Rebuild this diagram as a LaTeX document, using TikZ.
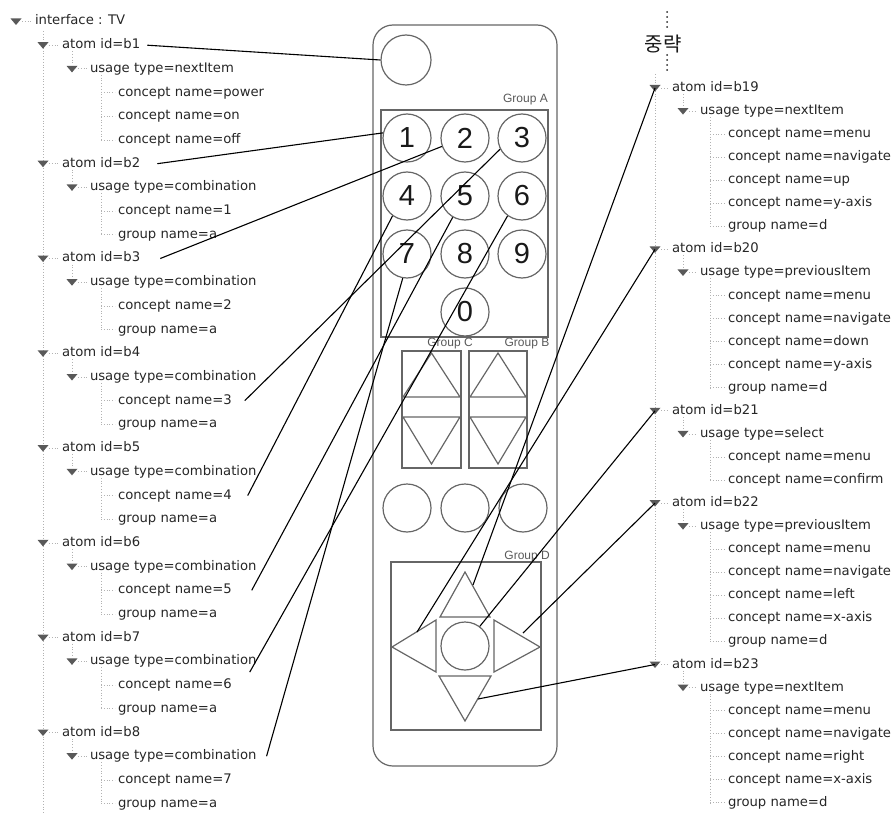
\documentclass[tikz,border=0pt]{standalone}
\usepackage{fontspec}
\setmainfont{DejaVu Sans}
\newfontfamily\digitfont{Liberation Sans}
\newfontfamily\krfont{Noto Sans CJK KR}
\newcommand\tbranch[5]{% name, triangle x, text x, y, text
  \fill[trifill] (#2-5.5,{#4-3}) -- (#2+5.5,{#4-3}) -- (#2,{#4+3.5}) -- cycle;
  \draw[treeline] (#2+6,{#4}) -- (#3-3,{#4});
  \coordinate (t-#1) at (#2,{#4});
  \node[ttext] (#1) at (#3,{#4}) {#5};}
\newcommand\tleaf[5]{% name, line x, text x, y, text
  \draw[treeline] (#2,{#4}) -- (#3-3,{#4});
  \node[ttext] (#1) at (#3,{#4}) {#5};}
\newcommand\rblock[8]{% id, start row, usage, nleaves, leaves...
  \tbranch{#1}{655}{672}{88+23.06*#2}{atom id=#1}
  \tbranch{u#1}{683}{700}{88+23.06*(#2+1)}{usage type=#3}
  \draw[treeline] (683,{88+23.06*#2+6}) -- (683,{88+23.06*(#2+1)-5});
  \tleaf{l#1a}{710}{728}{88+23.06*(#2+2)}{concept name=#5}
  \tleaf{l#1b}{710}{728}{88+23.06*(#2+3)}{concept name=#6}
  \ifnum#4>2
  \tleaf{l#1c}{710}{728}{88+23.06*(#2+4)}{concept name=#7}
  \tleaf{l#1d}{710}{728}{88+23.06*(#2+5)}{concept name=#8}
  \tleaf{l#1e}{710}{728}{88+23.06*(#2+6)}{group name=d}
  \fi
  \draw[treeline] (710,{88+23.06*(#2+1)+6}) -- (710,{88+23.06*(#2+1+#4)});}
\begin{document}
\begin{tikzpicture}[x=1pt,y=-1pt,
  ttext/.style={anchor=west,inner sep=0pt,outer sep=0pt,text height=10pt,text depth=3pt,
    font=\fontsize{13.2}{16}\selectfont,text=black!85},
  trifill/.style={fill=black!65},
  treeline/.style={draw=black!30,dotted,line width=0.8pt},
  rem/.style={draw=black!60,line width=1.2pt},
  padkey/.style={rem,circle,minimum size=48pt,inner sep=0pt,
    font=\digitfont\fontsize{29}{30}\selectfont,text=black!90},
  grp/.style={font=\digitfont\fontsize{12}{14}\selectfont,text=black!65,inner sep=0pt},
  conn/.style={draw=black,line width=1.1pt},
  omitdots/.style={draw=black!85,line width=2pt,line cap=round,dash pattern=on 0pt off 5pt}
]
\useasboundingbox (0,0) rectangle (894,813);

% ---------------- remote control ----------------
\draw[rem,rounded corners=20pt] (373,25) rectangle (557,766);
\node[padkey,minimum size=50pt] (ktop) at (406,60) {};
\node[grp,anchor=east] (gA) at (548,100) {Group A};
\draw[rem] (381,110) rectangle (548,337);
\node[padkey] (k1) at (407,138) {1};
\node[padkey] (k2) at (465,138) {2};
\node[padkey] (k3) at (522,138) {3};
\node[padkey] (k4) at (407,196) {4};
\node[padkey] (k5) at (465,196) {5};
\node[padkey] (k6) at (522,196) {6};
\node[padkey] (k7) at (407,254) {7};
\node[padkey] (k8) at (465,254) {8};
\node[padkey] (k9) at (522,254) {9};
\node[padkey] (k0) at (465,312) {0};

\node[grp] (gC) at (450,344) {Group C};
\node[grp] (gB) at (527,344) {Group B};
\draw[rem] (402,351) rectangle (461,468);
\draw[rem] (431.5,353) -- (403,397) -- (460,397) -- cycle;
\draw[rem] (403,417) -- (460,417) -- (431.5,464) -- cycle;
\draw[rem] (469,351) rectangle (527,468);
\draw[rem] (498,353) -- (470,397) -- (526,397) -- cycle;
\draw[rem] (470,417) -- (526,417) -- (498,464) -- cycle;

\node[padkey] (m1) at (407,508) {};
\node[padkey] (m2) at (465,508) {};
\node[padkey] (m3) at (523,508) {};

\node[grp,anchor=east] (gD) at (550,557) {Group D};
\draw[rem] (391,562) rectangle (541,730);
\draw[rem] (465,572) -- (440,617) -- (490,617) -- cycle;
\draw[rem] (392,647) -- (436,620) -- (436,672) -- cycle;
\node[padkey] (dC) at (465,646) {};
\draw[rem] (494,620) -- (540,647) -- (494,672) -- cycle;
\draw[rem] (439,676) -- (491,676) -- (465,721) -- cycle;
\coordinate (dUp) at (473,585);
\coordinate (dLeft) at (417,632);
\coordinate (dRight) at (523,633);
\coordinate (dDown) at (478,699);

% ---------------- left tree ----------------
\draw[treeline] (43,31) -- (43,813);
\tbranch{root}{16}{35}{21.5}{interface : TV}
\tbranch{b1}{43}{62}{21.5+23.7*1}{atom id=b1}
\draw[treeline] (72,{21.5+23.7*1+6}) -- (72,{21.5+23.7*2-5});
\tbranch{u1}{72}{90}{21.5+23.7*2}{usage type=nextItem}
\tleaf{c1a}{101}{118}{21.5+23.7*3}{concept name=power}
\tleaf{c1b}{101}{118}{21.5+23.7*4}{concept name=on}
\tleaf{c1c}{101}{118}{21.5+23.7*5}{concept name=off}
\draw[treeline] (101,{21.5+23.7*2+6}) -- (101,{21.5+23.7*5});
\foreach \n/\r in {2/6,3/10,4/14,5/18,6/22,7/26,8/30} {
  \pgfmathtruncatemacro\cn{\n-1}
  \tbranch{b\n}{43}{62}{21.5+23.7*\r}{atom id=b\n}
  \draw[treeline] (72,{21.5+23.7*\r+6}) -- (72,{21.5+23.7*(\r+1)-5});
  \tbranch{u\n}{72}{90}{21.5+23.7*(\r+1)}{usage type=combination}
  \tleaf{c\n}{101}{118}{21.5+23.7*(\r+2)}{concept name=\cn}
  \tleaf{g\n}{101}{118}{21.5+23.7*(\r+3)}{group name=a}
  \draw[treeline] (101,{21.5+23.7*(\r+1)+6}) -- (101,{21.5+23.7*(\r+3)});
}

% ---------------- right tree ----------------
\node[font=\krfont\fontsize{20}{22}\selectfont,inner sep=0pt,text=black!90] (omit) at (663,44) {중략};
\draw[omitdots] (667,12) -- (667,28);
\draw[omitdots] (667,55) -- (667,71);
\draw[treeline] (655,74) -- (655,{88+23.06*25});
\rblock{b19}{0}{nextItem}{5}{menu}{navigate}{up}{y-axis}
\rblock{b20}{7}{previousItem}{5}{menu}{navigate}{down}{y-axis}
\rblock{b21}{14}{select}{2}{menu}{confirm}{}{}
\rblock{b22}{18}{previousItem}{5}{menu}{navigate}{left}{x-axis}
\rblock{b23}{25}{nextItem}{5}{menu}{navigate}{right}{x-axis}

% ---------------- connectors ----------------
\draw[conn] ([xshift=7pt]b1.east) -- (ktop.180);
\draw[conn] ([xshift=17pt]b2.east) -- (k1.168);
\draw[conn] ([xshift=20pt]b3.east) -- (k2.200);
\draw[conn] ([xshift=13pt]c4.east) -- (k3.207);
\draw[conn] ([xshift=16pt]c5.east) -- (k4.234);
\draw[conn] ([xshift=20pt]c6.east) -- (k5.240);
\draw[conn] ([xshift=18pt,yshift=13pt]c7.east) -- (k6.234);
\draw[conn] ([xshift=10pt]u8.east) -- (k7.260);

\draw[conn] (dUp) -- (t-b19);
\draw[conn] (dLeft) -- (t-b20);
\draw[conn] (dC.53) -- (t-b21);
\draw[conn] (dRight) -- (t-b22);
\draw[conn] (dDown) -- (t-b23);
\end{tikzpicture}
\end{document}
